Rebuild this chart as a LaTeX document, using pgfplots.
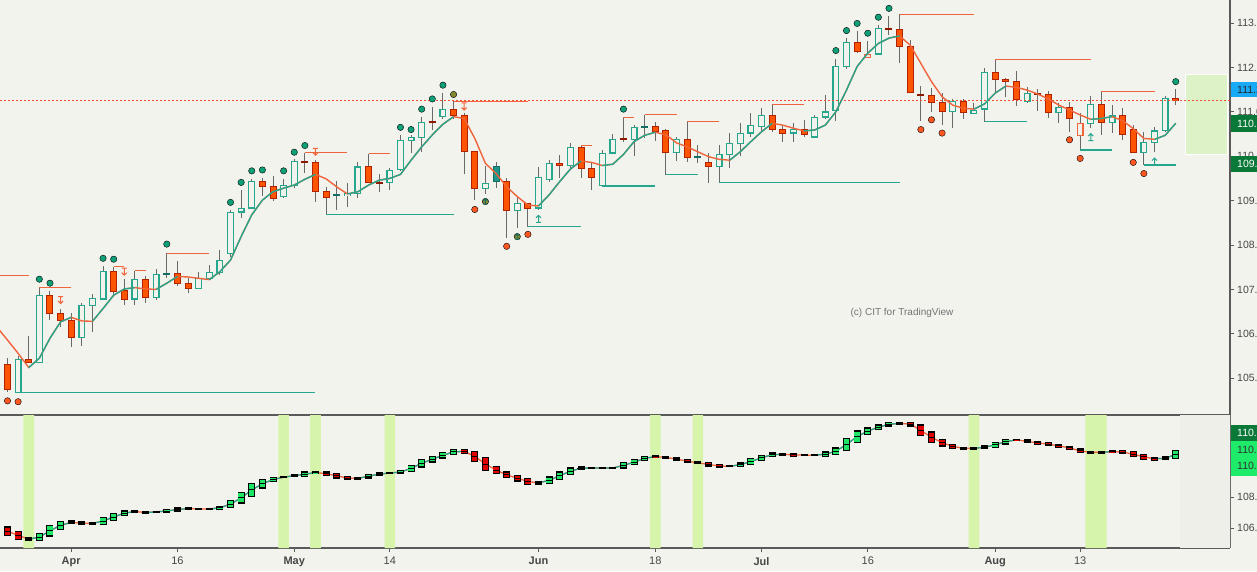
\documentclass[border=0pt]{standalone}
\usepackage{pgfplots}
\pgfplotsset{compat=1.18}
\usepackage{pgfplotstable}
\usepackage{fontspec}
\setmainfont{Liberation Sans}

\definecolor{bg}{RGB}{243,243,238}
\definecolor{tealc}{RGB}{38,166,140}
\definecolor{tealdk}{RGB}{20,110,100}
\definecolor{tealfill}{RGB}{30,150,140}
\definecolor{redfill}{RGB}{255,85,0}
\definecolor{redout}{RGB}{178,34,0}
\definecolor{dojired}{RGB}{140,25,0}
\definecolor{orangel}{RGB}{240,100,60}
\definecolor{dotgreen}{RGB}{16,160,120}
\definecolor{dotred}{RGB}{255,87,34}
\definecolor{dotolive}{RGB}{130,135,50}
\definecolor{wick}{RGB}{105,105,105}
\definecolor{lgreen}{RGB}{30,230,100}
\definecolor{lred}{RGB}{225,0,0}
\definecolor{band}{RGB}{214,245,170}
\definecolor{lblblue}{RGB}{25,170,245}
\definecolor{lbldg}{RGB}{10,120,55}
\definecolor{lblbg}{RGB}{30,235,105}
\definecolor{rectg}{RGB}{222,242,200}
\definecolor{axisgray}{RGB}{90,90,90}
\definecolor{tickgray}{RGB}{70,70,70}
\definecolor{rightreg}{RGB}{239,239,234}

\pgfdeclareplotmark{tdown}{%
  \pgfpathmoveto{\pgfqpoint{-2.5pt}{3.5pt}}\pgfpathlineto{\pgfqpoint{2.5pt}{3.5pt}}%
  \pgfpathmoveto{\pgfqpoint{0pt}{3.5pt}}\pgfpathlineto{\pgfqpoint{0pt}{-3.5pt}}%
  \pgfpathmoveto{\pgfqpoint{-2.5pt}{-1pt}}\pgfpathlineto{\pgfqpoint{0pt}{-3.5pt}}\pgfpathlineto{\pgfqpoint{2.5pt}{-1pt}}%
  \pgfusepathqstroke}
\pgfdeclareplotmark{tup}{%
  \pgfpathmoveto{\pgfqpoint{-2.5pt}{-3.5pt}}\pgfpathlineto{\pgfqpoint{2.5pt}{-3.5pt}}%
  \pgfpathmoveto{\pgfqpoint{0pt}{-3.5pt}}\pgfpathlineto{\pgfqpoint{0pt}{3.5pt}}%
  \pgfpathmoveto{\pgfqpoint{-2.5pt}{1pt}}\pgfpathlineto{\pgfqpoint{0pt}{3.5pt}}\pgfpathlineto{\pgfqpoint{2.5pt}{1pt}}%
  \pgfusepathqstroke}

\pgfplotsset{nomark/.style={only marks, mark=*, mark size=0pt, mark options={draw=none, fill=none}}}

\pgfplotstableread{
i O H L C t
0 105.31 105.46 104.70 104.75 2
1 104.68 105.50 104.68 105.42 1
2 105.42 105.95 105.36 105.36 2
3 105.36 107.05 105.36 106.87 1
4 106.87 106.96 106.31 106.46 2
5 106.46 106.57 106.16 106.30 2
6 106.31 106.48 105.71 105.91 2
7 105.91 106.69 105.73 106.64 1
8 106.64 106.90 106.05 106.80 1
9 106.78 107.53 106.78 107.41 1
10 107.41 107.51 106.84 106.96 2
11 106.98 107.23 106.65 106.78 2
12 106.78 107.42 106.65 107.23 1
13 107.23 107.30 106.70 106.81 2
14 106.81 107.45 106.75 107.34 1
15 107.35 107.81 107.25 107.34 6
16 107.36 107.64 107.08 107.14 2
17 107.14 107.25 106.93 107.02 2
18 107.02 107.40 107.02 107.25 1
19 107.25 107.55 107.21 107.38 1
20 107.38 107.89 107.33 107.65 1
21 107.80 108.79 107.74 108.74 1
22 108.74 109.24 108.60 108.83 1
23 108.83 109.49 108.83 109.43 1
24 109.43 109.52 109.11 109.31 2
25 109.31 109.56 108.99 109.05 2
26 109.09 109.49 109.07 109.34 1
27 109.34 109.93 109.28 109.89 1
28 109.89 110.08 109.63 109.86 5
29 109.86 109.91 108.98 109.20 2
30 109.20 109.30 108.68 109.07 2
31 109.12 109.44 108.80 109.13 6
32 109.11 109.39 108.86 109.16 1
33 109.16 109.88 109.05 109.76 1
34 109.76 110.05 109.41 109.41 2
35 109.42 109.59 109.20 109.39 5
36 109.41 109.73 109.24 109.69 1
37 109.69 110.48 109.67 110.36 1
38 110.35 110.48 110.08 110.42 1
39 110.42 110.89 110.10 110.76 1
40 110.77 111.12 110.59 110.76 5
41 110.89 111.42 110.85 111.06 1
42 111.06 111.24 110.85 110.91 2
43 110.91 110.97 109.61 110.10 2
44 110.10 110.10 109.01 109.28 2
45 109.27 109.79 109.16 109.39 1
46 109.78 109.86 109.28 109.43 3
47 109.43 109.50 108.15 108.77 2
48 108.77 109.11 108.38 108.94 1
49 108.94 108.94 108.41 108.83 2
50 108.83 109.76 108.79 109.52 1
51 109.48 109.91 109.41 109.84 1
52 109.84 110.03 109.52 109.79 2
53 109.79 110.29 109.73 110.20 1
54 110.20 110.25 109.52 109.73 2
55 109.73 109.88 109.24 109.52 2
56 109.33 110.14 109.33 110.07 1
57 110.07 110.51 110.04 110.38 1
58 110.39 110.88 110.31 110.37 5
59 110.37 110.70 110.00 110.65 1
60 110.66 110.93 110.40 110.67 6
61 110.68 110.76 110.35 110.55 2
62 110.57 110.61 109.58 110.08 2
63 110.08 110.44 109.90 110.38 1
64 110.38 110.79 109.88 109.98 2
65 109.98 110.25 109.84 109.99 6
66 109.85 110.07 109.40 109.76 2
67 109.76 110.25 109.40 110.04 1
68 110.04 110.52 109.73 110.29 1
69 110.29 110.74 110.01 110.52 1
70 110.52 110.97 110.44 110.70 1
71 110.67 111.09 110.57 110.92 1
72 110.92 111.17 110.55 110.61 2
73 110.61 110.67 110.33 110.52 2
74 110.52 110.75 110.33 110.61 1
75 110.61 110.82 110.44 110.48 2
76 110.43 110.93 110.40 110.88 1
77 110.88 111.38 110.83 111.00 1
78 111.02 112.20 110.80 112.03 1
79 112.02 112.67 111.96 112.56 1
80 112.56 112.82 112.32 112.35 2
81 112.23 112.59 112.23 112.30 4
82 112.30 112.95 112.28 112.88 1
83 112.88 113.16 112.73 112.86 5
84 112.86 113.20 112.11 112.47 2
85 112.47 112.62 111.42 111.44 2
86 111.40 111.58 110.80 111.37 5
87 111.36 111.53 111.00 111.21 2
88 111.21 111.42 110.70 111.00 2
89 111.00 111.29 110.63 111.24 1
90 111.24 111.28 110.85 110.98 2
91 110.97 111.19 110.97 111.04 1
92 111.06 111.98 110.78 111.89 1
93 111.89 112.18 111.43 111.73 2
94 111.73 111.77 111.34 111.69 2
95 111.69 111.92 111.13 111.27 2
96 111.23 111.55 111.19 111.42 1
97 111.41 111.51 111.02 111.40 5
98 111.39 111.47 110.87 110.99 2
99 110.99 111.21 110.75 111.10 1
100 111.10 111.21 110.55 110.85 2
101 110.46 110.97 110.14 110.74 4
102 110.74 111.36 110.63 111.17 1
103 111.17 111.45 110.48 110.76 2
104 110.76 111.15 110.52 110.91 1
105 110.91 111.08 110.36 110.50 2
106 110.61 110.70 110.07 110.09 2
107 110.09 110.55 109.80 110.31 1
108 110.31 110.65 110.10 110.57 1
109 110.57 111.36 110.55 111.30 1
110 111.30 111.51 111.15 111.25 2
}\candles

\pgfplotstableread{
i m
-1 106.15
0 105.86
1 105.56
2 105.24
3 105.45
4 105.90
5 106.27
6 106.37
7 106.29
8 106.28
9 106.57
10 106.87
11 107.01
12 107.04
13 107.01
14 107.00
15 107.14
16 107.29
17 107.28
18 107.25
19 107.22
20 107.40
21 107.66
22 108.19
23 108.68
24 109.01
25 109.20
26 109.28
27 109.35
28 109.48
29 109.59
30 109.49
31 109.31
32 109.15
33 109.20
34 109.35
35 109.46
36 109.50
37 109.59
38 109.91
39 110.21
40 110.48
41 110.72
42 110.89
43 110.85
44 110.40
45 109.84
46 109.61
47 109.31
48 109.09
49 108.90
50 108.88
51 109.13
52 109.43
53 109.71
54 109.89
55 109.86
56 109.79
57 109.82
58 110.04
59 110.33
60 110.47
61 110.54
62 110.48
63 110.30
64 110.21
65 110.10
66 109.99
67 109.93
68 109.91
69 110.10
70 110.33
71 110.55
72 110.74
73 110.70
74 110.63
75 110.57
76 110.59
77 110.70
78 111.00
79 111.49
80 112.02
81 112.32
82 112.54
83 112.66
84 112.71
85 112.50
86 112.09
87 111.68
88 111.34
89 111.15
90 111.08
91 111.06
92 111.18
93 111.42
94 111.58
95 111.55
96 111.49
97 111.40
98 111.29
99 111.15
100 111.04
101 110.93
102 110.83
103 110.85
104 110.89
105 110.80
106 110.62
107 110.40
108 110.38
109 110.47
110 110.74
}\matab

\pgfplotstableread{
i lo hi t
0 105.53 106.07 2
1 105.27 105.78 2
2 105.20 105.36 2
3 105.20 105.63 1
4 105.48 106.17 1
5 105.91 106.43 1
6 106.28 106.45 2
7 106.24 106.39 2
8 106.27 106.33 3
9 106.24 106.66 1
10 106.49 106.93 1
11 106.82 107.10 1
12 107.03 107.10 3
13 106.97 107.03 3
14 107.00 107.08 3
15 107.00 107.20 1
16 107.10 107.29 1
17 107.22 107.28 3
18 107.21 107.25 3
19 107.21 107.26 3
20 107.20 107.40 1
21 107.31 107.78 1
22 107.61 108.28 1
23 108.04 108.88 1
24 108.58 109.12 1
25 109.01 109.25 1
26 109.25 109.31 3
27 109.33 109.42 3
28 109.33 109.61 1
29 109.50 109.66 1
30 109.40 109.61 2
31 109.23 109.50 2
32 109.12 109.33 2
33 109.17 109.23 3
34 109.23 109.46 1
35 109.40 109.55 1
36 109.52 109.58 3
37 109.50 109.72 1
38 109.65 110.04 1
39 109.94 110.41 1
40 110.26 110.62 1
41 110.52 110.86 1
42 110.75 111.08 1
43 110.80 111.08 2
44 110.30 110.95 2
45 109.72 110.54 2
46 109.50 109.98 2
47 109.25 109.61 2
48 109.03 109.40 2
49 108.82 109.18 2
50 108.82 109.00 3
51 108.86 109.29 1
52 109.14 109.61 1
53 109.46 109.87 1
54 109.78 109.93 1
55 109.84 109.90 3
56 109.84 109.90 3
57 109.84 109.90 3
58 109.87 110.21 1
59 110.08 110.41 1
60 110.37 110.62 1
61 110.54 110.67 2
62 110.49 110.62 2
63 110.37 110.52 2
64 110.21 110.41 2
65 110.15 110.26 3
66 110.00 110.21 2
67 109.91 110.09 2
68 109.95 110.01 3
69 109.98 110.19 1
70 110.11 110.47 1
71 110.37 110.69 1
72 110.62 110.84 1
73 110.70 110.80 2
74 110.65 110.80 2
75 110.67 110.73 3
76 110.67 110.73 3
77 110.62 110.90 1
78 110.75 111.16 1
79 111.01 111.76 1
80 111.53 112.27 1
81 112.05 112.46 1
82 112.37 112.64 1
83 112.58 112.80 1
84 112.70 112.80 1
85 112.58 112.82 2
86 111.96 112.64 2
87 111.50 112.20 2
88 111.29 111.72 2
89 111.14 111.40 2
90 111.08 111.20 2
91 111.11 111.17 3
92 111.12 111.29 1
93 111.20 111.53 1
94 111.42 111.72 1
95 111.66 111.72 2
96 111.50 111.68 2
97 111.42 111.57 2
98 111.31 111.50 2
99 111.20 111.40 2
100 111.08 111.25 2
101 110.86 111.10 2
102 110.85 110.91 3
103 110.85 110.91 3
104 110.86 110.99 2
105 110.82 110.99 2
106 110.60 110.92 2
107 110.43 110.75 2
108 110.39 110.54 2
109 110.40 110.60 3
110 110.50 110.99 1
}\lowtab

% candle body helper: #1 type, #2 line width, #3 colour, #4 half-height offset
\newcommand{\cbody}[4]{%
  \addplot[nomark, forget plot,
    restrict expr to domain={\thisrow{t}}{#1:#1},
    error bars/.cd, y dir=both, y explicit, error mark=none,
    error bar style={line width=#2, draw=#3}]
    table[x=i, y expr={(\thisrow{O}+\thisrow{C})/2},
          y error expr={max(abs(\thisrow{O}-\thisrow{C})/2+(#4),0)}] \candles;}
\newcommand{\cdoji}[2]{%
  \addplot[nomark, forget plot,
    restrict expr to domain={\thisrow{t}}{#1:#1},
    error bars/.cd, y dir=both, y explicit, error mark=none,
    error bar style={line width=7pt, draw=#2}]
    table[x=i, y expr={(\thisrow{O}+\thisrow{C})/2}, y error expr={0.024}] \candles;}
% lower panel box helper
\newcommand{\lbox}[4]{%
  \addplot[nomark, forget plot,
    restrict expr to domain={\thisrow{t}}{#1},
    error bars/.cd, y dir=both, y explicit, error mark=none,
    error bar style={line width=#2, draw=#3}]
    table[x=i, y expr={(\thisrow{lo}+\thisrow{hi})/2},
          y error expr={max((\thisrow{hi}-\thisrow{lo})/2+(#4),0.02)}] \lowtab;}

\newcommand\tfont{\fontsize{10.5}{12.5}\selectfont}

\begin{document}
\begin{tikzpicture}[x=1pt,y=1pt]
\fill[bg] (0,0) rectangle (1257,571);

%================ MAIN PANEL ================
\begin{axis}[
  at={(0pt,156pt)}, anchor=south west,
  width=1230pt, height=415pt, scale only axis,
  xmin=-0.706, xmax=115.11, ymin=104.171, ymax=113.518,
  axis x line*=bottom, axis y line*=right,
  axis line style={draw=axisgray, line width=1.2pt},
  xtick=\empty,
  ytick={105,106,107,108,109,110,111,112,113},
  yticklabels={105.00,106.00,107.00,108.00,109.00,110.00,111.00,112.00,113.00},
  tick align=outside, major tick length=4pt,
  tick style={draw=axisgray, line width=0.8pt},
  yticklabel style={anchor=west, font=\tfont, text=tickgray, inner sep=0pt, xshift=3pt},
  clip=true, unbounded coords=jump,
]
% shaded box at right
\addplot[fill=rectg, draw=white, line width=1pt, forget plot]
  coordinates {(110.88,110.03) (114.92,110.03) (114.92,111.83) (110.88,111.83)} --cycle;
% wicks
\addplot[nomark, forget plot,
  error bars/.cd, y dir=both, y explicit, error mark=none,
  error bar style={line width=1pt, draw=wick}]
  table[x=i, y expr={(\thisrow{H}+\thisrow{L})/2}, y error expr={(\thisrow{H}-\thisrow{L})/2}] \candles;
% bodies
\cbody{1}{7pt}{tealc}{0.0113}
\cbody{1}{4.6pt}{bg}{-0.016}
\cbody{2}{7pt}{redout}{0.0113}
\cbody{2}{5pt}{redfill}{-0.0113}
\cbody{3}{7pt}{tealdk}{0.0113}
\cbody{3}{5pt}{tealfill}{-0.0113}
\cbody{4}{7pt}{orangel}{0.0113}
\cbody{4}{4.6pt}{bg}{-0.016}
\cdoji{5}{dojired}
\cdoji{6}{tealdk}
% last-price dotted line
\addplot[draw=orangel!80!red, line width=1pt, dash pattern=on 2pt off 2pt]
  coordinates {(-0.71,111.26) (115.11,111.26)};
% moving average: falling parts orange, rising parts teal
\addplot[draw=orangel, line width=1.4pt] table[x=i, y=m] \matab;
\addplot[draw=tealc, line width=1.4pt, restrict x to domain=2:6] table[x=i, y=m] \matab;
\addplot[draw=tealc, line width=1.4pt, restrict x to domain=8:12] table[x=i, y=m] \matab;
\addplot[draw=tealc, line width=1.4pt, restrict x to domain=14:16] table[x=i, y=m] \matab;
\addplot[draw=tealc, line width=1.4pt, restrict x to domain=19:29] table[x=i, y=m] \matab;
\addplot[draw=tealc, line width=1.4pt, restrict x to domain=32:42] table[x=i, y=m] \matab;
\addplot[draw=tealc, line width=1.4pt, restrict x to domain=50:54] table[x=i, y=m] \matab;
\addplot[draw=tealc, line width=1.4pt, restrict x to domain=56:61] table[x=i, y=m] \matab;
\addplot[draw=tealc, line width=1.4pt, restrict x to domain=68:72] table[x=i, y=m] \matab;
\addplot[draw=tealc, line width=1.4pt, restrict x to domain=75:84] table[x=i, y=m] \matab;
\addplot[draw=tealc, line width=1.4pt, restrict x to domain=91:94] table[x=i, y=m] \matab;
\addplot[draw=tealc, line width=1.4pt, restrict x to domain=102:104] table[x=i, y=m] \matab;
\addplot[draw=tealc, line width=1.4pt, restrict x to domain=108:110] table[x=i, y=m] \matab;
% resistance lines
\addplot[draw=orangel, line width=1pt] coordinates {
 (-0.71,107.32) (2,107.32) (2,nan)
 (3,107.05) (6,107.05) (6,nan)
 (10,107.51) (11,107.51) (11,nan)
 (12,107.42) (13,107.42) (13,nan)
 (15,107.81) (19,107.81) (19,nan)
 (28,110.08) (32,110.08) (32,nan)
 (34,110.05) (36,110.05) (36,nan)
 (42,111.24) (49,111.24) (49,nan)
 (54,110.25) (55,110.25) (55,nan)
 (58,110.88) (59,110.88) (59,nan)
 (60,110.93) (63,110.93) (63,nan)
 (64,110.79) (67,110.79) (67,nan)
 (72,111.17) (75,111.17) (75,nan)
 (84,113.20) (91,113.20) (91,nan)
 (93,112.18) (102,112.18) (102,nan)
 (103,111.45) (108,111.45)};
% support lines
\addplot[draw=tealc, line width=1.2pt] coordinates {
 (1,104.68) (29,104.68) (29,nan)
 (30,108.68) (42,108.68) (42,nan)
 (49,108.41) (54,108.41) (54,nan)
 (56,109.33) (61,109.33) (61,nan)
 (62,109.58) (65,109.58) (65,nan)
 (67,109.40) (84,109.40) (84,nan)
 (92,110.78) (96,110.78) (96,nan)
 (101,110.14) (104,110.14) (104,nan)
 (107,109.80) (110,109.80)};
% dots
\addplot[only marks, mark=*, mark size=3.2pt, mark options={draw=none, fill=dotgreen}] coordinates {
 (3,107.23) (4,107.14) (9,107.70) (10,107.68) (15,108.02) (21,108.96) (22,109.41) (23,109.67)
 (24,109.69) (26,109.67) (27,110.09) (28,110.24) (37,110.65) (38,110.60) (39,111.06) (40,111.29)
 (41,111.60) (58,111.06) (78,112.38) (79,112.83) (80,112.99) (81,112.77) (82,113.13) (83,113.33) (110,111.68)};
\addplot[only marks, mark=*, mark size=3.2pt, mark options={draw=none, fill=dotred}] coordinates {
 (0,104.49) (1,104.47) (44,108.80) (47,107.97) (49,108.24) (86,110.60) (87,110.82) (88,110.52)
 (100,110.37) (101,109.95) (106,109.86) (107,109.61)};
\addplot[only marks, mark=*, mark size=3.2pt, mark options={draw=none, fill=dotolive}] coordinates {
 (42,111.39) (45,108.98) (48,108.19)};
% arrows
\addplot[only marks, mark=tdown, mark options={draw=orangel, line width=1pt}] coordinates {
 (5,106.76) (11,107.40) (29,110.10) (43,111.12)};
\addplot[only marks, mark=tup, mark options={draw=tealc, line width=1pt}] coordinates {
 (50,108.59) (102,110.43) (108,109.88)};
\addplot[only marks, mark=tup, mark options={draw=tealdk, line width=0.9pt, scale=0.8}] coordinates {
 (45,108.98) (48,108.19)};
\end{axis}

%================ LOWER PANEL ================
\begin{axis}[
  at={(0pt,23pt)}, anchor=south west,
  width=1230pt, height=133pt, scale only axis,
  xmin=-0.706, xmax=115.11, ymin=104.71, ymax=113.29,
  axis x line*=bottom, axis y line*=right,
  axis line style={draw=axisgray, line width=1.2pt},
  xtick={6,16,27,36,50,61,71,81,93,101},
  xticklabels={\textbf{Apr},16,\textbf{May},14,\textbf{Jun},18,\textbf{Jul},16,\textbf{Aug},13},
  ytick={106,108,110,112},
  yticklabels={106.00,108.00,110.00,112.00},
  tick align=outside, major tick length=4pt,
  tick style={draw=axisgray, line width=0.8pt},
  yticklabel style={anchor=west, font=\tfont, text=tickgray, inner sep=0pt, xshift=3pt},
  xticklabel style={anchor=north, font=\fontsize{11}{13}\selectfont, text=tickgray, inner sep=0pt, yshift=-5pt},
  clip=true,
]
\addplot[fill=rightreg, draw=none, forget plot]
  coordinates {(110.4,104.71) (115.2,104.71) (115.2,113.29) (110.4,113.29)} --cycle;
\addplot[ybar, bar width=10.6pt, bar shift=0pt, fill=band, draw=none, forget plot] coordinates {
 (2,113.3) (26,113.3) (29,113.3) (36,113.3) (61,113.3) (65,113.3) (91,113.3) (102,113.3) (103,113.3)};
\addplot[draw=orangel, line width=1.3pt] table[x=i, y expr={(\thisrow{lo}+\thisrow{hi})/2}] \lowtab;
\addplot[draw=tealc, line width=1.3pt, restrict x to domain=2:6] table[x=i, y expr={(\thisrow{lo}+\thisrow{hi})/2}] \lowtab;
\addplot[draw=tealc, line width=1.3pt, restrict x to domain=8:12] table[x=i, y expr={(\thisrow{lo}+\thisrow{hi})/2}] \lowtab;
\addplot[draw=tealc, line width=1.3pt, restrict x to domain=13:17] table[x=i, y expr={(\thisrow{lo}+\thisrow{hi})/2}] \lowtab;
\addplot[draw=tealc, line width=1.3pt, restrict x to domain=19:29] table[x=i, y expr={(\thisrow{lo}+\thisrow{hi})/2}] \lowtab;
\addplot[draw=tealc, line width=1.3pt, restrict x to domain=33:43] table[x=i, y expr={(\thisrow{lo}+\thisrow{hi})/2}] \lowtab;
\addplot[draw=tealc, line width=1.3pt, restrict x to domain=50:61] table[x=i, y expr={(\thisrow{lo}+\thisrow{hi})/2}] \lowtab;
\addplot[draw=tealc, line width=1.3pt, restrict x to domain=68:73] table[x=i, y expr={(\thisrow{lo}+\thisrow{hi})/2}] \lowtab;
\addplot[draw=tealc, line width=1.3pt, restrict x to domain=76:84] table[x=i, y expr={(\thisrow{lo}+\thisrow{hi})/2}] \lowtab;
\addplot[draw=tealc, line width=1.3pt, restrict x to domain=91:95] table[x=i, y expr={(\thisrow{lo}+\thisrow{hi})/2}] \lowtab;
\addplot[draw=tealc, line width=1.3pt, restrict x to domain=103:104] table[x=i, y expr={(\thisrow{lo}+\thisrow{hi})/2}] \lowtab;
\addplot[draw=tealc, line width=1.3pt, restrict x to domain=108:110] table[x=i, y expr={(\thisrow{lo}+\thisrow{hi})/2}] \lowtab;
% boxes
\lbox{1:3}{7pt}{black}{0.045}
\lbox{1:1}{5.4pt}{lgreen}{-0.045}
\lbox{2:2}{5.4pt}{lred}{-0.045}
\addplot[nomark, forget plot,
  error bars/.cd, x dir=both, x fixed=0.33, error mark=none,
  error bar style={line width=0.9pt, draw=black}]
  table[x=i, y expr={(\thisrow{lo}+\thisrow{hi})/2}] \lowtab;
\end{axis}

% watermark
\node[font=\fontsize{10}{12}\selectfont, text=black!55, anchor=center] at (902,258) {(c) CIT for TradingView};

% right-hand value labels
\fill[lblblue] (1230.6,474) rectangle (1257,489);
\node[anchor=west, inner sep=0pt, font=\tfont, text=black!85] at (1237,481.5) {111.26};
\fill[lbldg] (1230.6,439) rectangle (1257,456);
\node[anchor=west, inner sep=0pt, font=\tfont, text=white] at (1237,447.5) {110.74};
\fill[lbldg] (1230.6,399) rectangle (1257,415);
\node[anchor=west, inner sep=0pt, font=\tfont, text=white] at (1237,407) {109.80};
\fill[lbldg] (1230.6,130) rectangle (1257,146);
\node[anchor=west, inner sep=0pt, font=\tfont, text=white] at (1237,138) {110.75};
\fill[lblbg] (1230.6,95) rectangle (1257,130);
\node[anchor=west, inner sep=0pt, font=\tfont, text=black!80] at (1237,121) {110.99};
\node[anchor=west, inner sep=0pt, font=\tfont, text=black!80] at (1237,105) {110.50};

\pgfresetboundingbox
\path[use as bounding box] (0,0) rectangle (1257,571);
\end{tikzpicture}
\end{document}
